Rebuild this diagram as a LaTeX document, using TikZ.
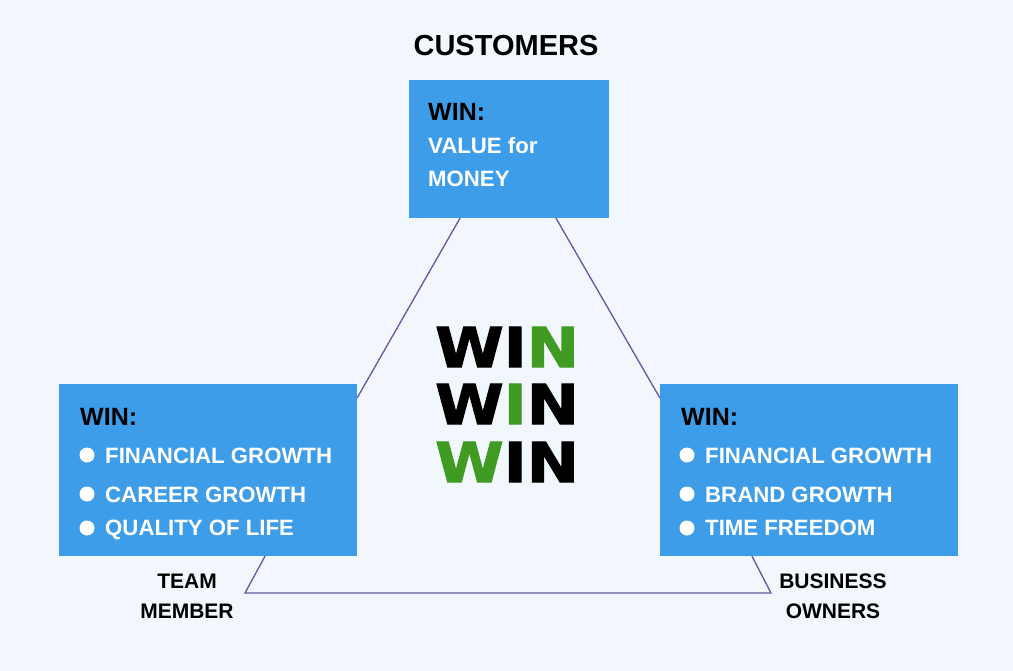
\documentclass[tikz,border=0pt]{standalone}
\usepackage{fontspec}
\setmainfont{Liberation Sans}
\newfontfamily\winfont{DejaVu Sans Bold}[FakeBold=2]
\definecolor{bgpale}{HTML}{F2F6FD}
\definecolor{boxblue}{HTML}{3E9DE8}
\definecolor{linkpurple}{HTML}{5C5AA2}
\definecolor{wingreen}{HTML}{3F9B22}

\begin{document}
\begin{tikzpicture}[
  x=1pt, y=-1pt,
  winbox/.style={fill=boxblue, inner sep=0pt},
  head/.style={anchor=base west, inner sep=0pt, font=\bfseries\fontsize{25}{30}\selectfont},
  item/.style={anchor=base west, inner sep=0pt, text=white, font=\bfseries\fontsize{22.2}{26}\selectfont},
  role/.style={anchor=base, inner sep=0pt, font=\bfseries\fontsize{21}{25}\selectfont},
  bigwin/.style={anchor=base, inner sep=0pt, xscale=1.13, font=\winfont\fontsize{55}{60}\selectfont},
  link/.style={draw=linkpurple, line width=1.3pt}
]
\fill[bgpale] (0,0) rectangle (1013,671);
\useasboundingbox (0,0) rectangle (1013,671);

% the three parties
\node[winbox, minimum width=200pt, minimum height=138pt] (cust) at (509,149) {};
\node[winbox, minimum width=298pt, minimum height=172pt] (team) at (208,470) {};
\node[winbox, minimum width=298pt, minimum height=172pt] (owner) at (809,470) {};

\node[role, font=\bfseries\fontsize{29}{32}\selectfont] (custname) at (506,56) {CUSTOMERS};
\node[role] (team1) at (187,588) {TEAM};
\node[role] (team2) at (187,618) {MEMBER};
\node[role] (owner1) at (833,588) {BUSINESS};
\node[role] (owner2) at (833,618) {OWNERS};

% top box text
\node[head] (custwin) at (428,121) {WIN:};
\node[item] (cust1) at (428,154) {VALUE for};
\node[item] (cust2) at (428,187) {MONEY};

% left box text
\node[head] (teamwin) at (80,425) {WIN:};
\node[item] (teama) at (105,463) {FINANCIAL GROWTH};
\node[item] (teamb) at (105,502) {CAREER GROWTH};
\node[item] (teamc) at (105,535) {QUALITY OF LIFE};
\fill[white] (87,455) circle (7.5);
\fill[white] (87,494) circle (7.5);
\fill[white] (87,528) circle (7.5);

% right box text
\node[head] (ownerwin) at (681,425) {WIN:};
\node[item] (ownera) at (705,463) {FINANCIAL GROWTH};
\node[item] (ownerb) at (705,502) {BRAND GROWTH};
\node[item] (ownerc) at (705,535) {TIME FREEDOM};
\fill[white] (687,455) circle (7.5);
\fill[white] (687,494) circle (7.5);
\fill[white] (687,528) circle (7.5);

% centre
\node[bigwin] (win1) at (507,367) {WI\textcolor{wingreen}{N}};
\node[bigwin] (win2) at (507,424) {W\textcolor{wingreen}{I}N};
\node[bigwin] (win3) at (507,482) {\textcolor{wingreen}{W}IN};

% triangle
\coordinate (cornerl) at (245,593);
\coordinate (cornerr) at (771,593);
\draw[link] ([xshift=-49pt]cust.south) -- ([yshift=-14pt]team.north east);
\draw[link] ([xshift=47pt]cust.south) -- ([yshift=-14pt]owner.north west);
\draw[link] ([xshift=57pt]team.south) -- (cornerl) -- (cornerr) -- ([xshift=-57pt]owner.south);
\end{tikzpicture}
\end{document}
